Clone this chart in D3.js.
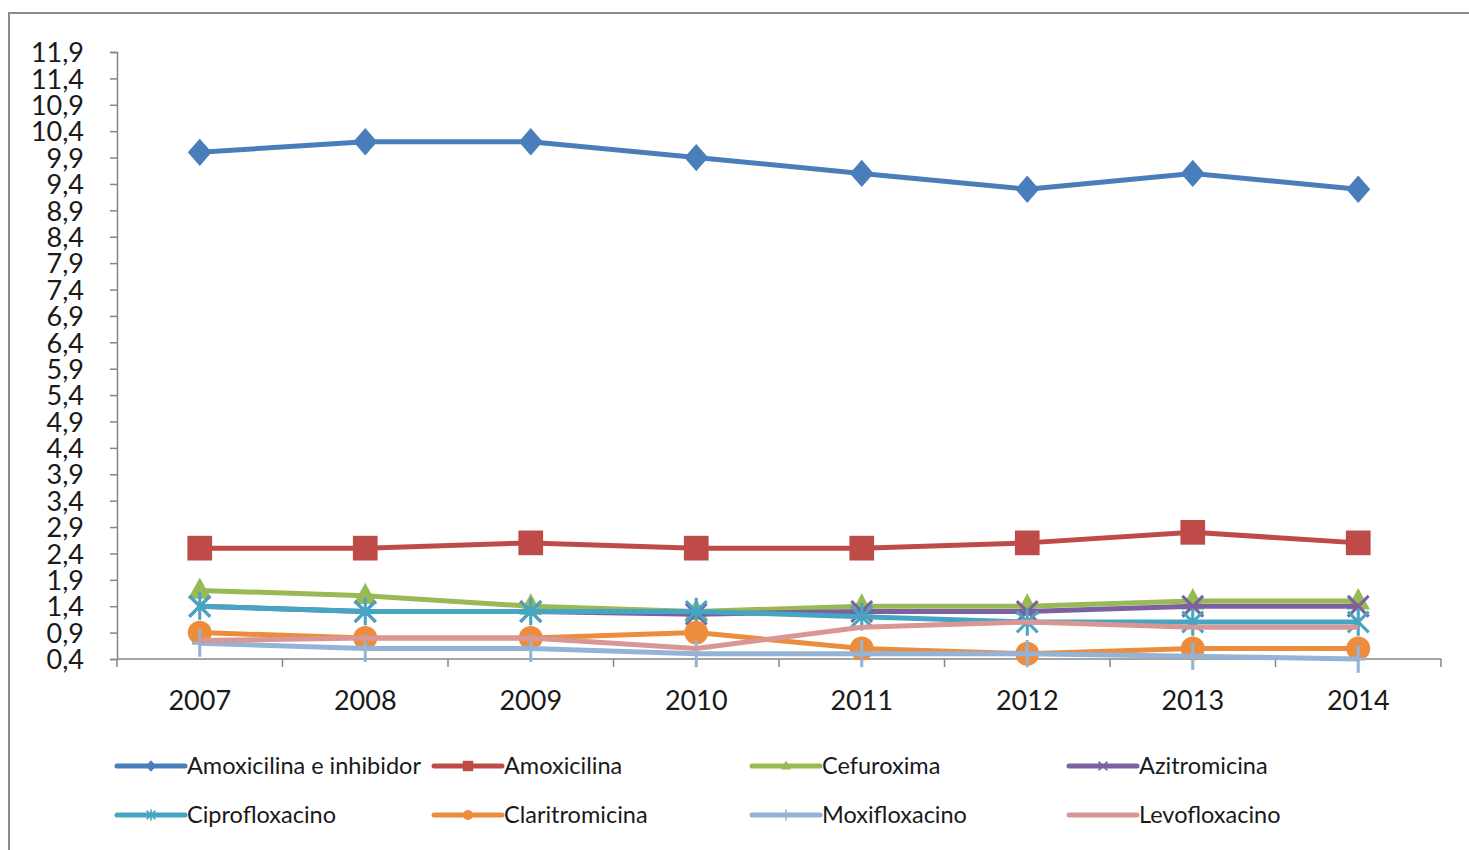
<!DOCTYPE html>
<html>
<head>
<meta charset="utf-8">
<script src="https://cdn.jsdelivr.net/npm/d3@7"></script>
<style>
  body { margin: 0; background: #fff; }
  svg text { font-family: Lato, "Liberation Sans", sans-serif; fill: #1a1a1a; }
</style>
</head>
<body>
<script>
'use strict';
(function () {
  // data
  const years = ["2007", "2008", "2009", "2010", "2011", "2012", "2013", "2014"];
  const yTicks = [0.4, 0.9, 1.4, 1.9, 2.4, 2.9, 3.4, 3.9, 4.4, 4.9, 5.4, 5.9,
    6.4, 6.9, 7.4, 7.9, 8.4, 8.9, 9.4, 9.9, 10.4, 10.9, 11.4, 11.9];

  const amoxInhib = [10.0, 10.2, 10.2, 9.9, 9.6, 9.3, 9.6, 9.3];
  const amoxicilina = [2.5, 2.5, 2.6, 2.5, 2.5, 2.6, 2.8, 2.6];
  const cefuroxima = [1.7, 1.6, 1.4, 1.3, 1.4, 1.4, 1.5, 1.5];
  const azitromicina = [1.4, 1.3, 1.3, 1.25, 1.3, 1.3, 1.4, 1.4];
  const ciprofloxacino = [1.4, 1.3, 1.3, 1.3, 1.2, 1.1, 1.1, 1.1];
  const claritromicina = [0.9, 0.8, 0.8, 0.9, 0.6, 0.5, 0.6, 0.6];
  const moxifloxacino = [0.7, 0.6, 0.6, 0.5, 0.5, 0.5, 0.45, 0.4];
  const levofloxacino = [0.75, 0.8, 0.8, 0.6, 1.0, 1.1, 1.0, 1.0];

  const series = [
    { name: "Amoxicilina e inhibidor", values: amoxInhib, color: "#4A7EBB", marker: "diamond" },
    { name: "Amoxicilina", values: amoxicilina, color: "#BE4B48", marker: "square" },
    { name: "Cefuroxima", values: cefuroxima, color: "#98B954", marker: "triangle" },
    { name: "Azitromicina", values: azitromicina, color: "#7D60A0", marker: "x" },
    { name: "Ciprofloxacino", values: ciprofloxacino, color: "#46A5C2", marker: "star" },
    { name: "Claritromicina", values: claritromicina, color: "#EC8D3E", marker: "circle" },
    { name: "Moxifloxacino", values: moxifloxacino, color: "#94B3D6", marker: "plus" },
    { name: "Levofloxacino", values: levofloxacino, color: "#D99694", marker: "none" }
  ];

  const W = 1469, H = 850;
  const plot = { left: 117, right: 1441, top: 52, bottom: 659 };

  const svg = d3.select('body').append('svg')
    .attr('width', W)
    .attr('height', H);

  // chart area frame
  svg.append('path')
    .attr('d', 'M9,850 V13 H1469')
    .attr('fill', 'none')
    .attr('stroke', '#8c8c8c')
    .attr('stroke-width', 2);

  const xBand = d3.scaleBand().domain(years).range([plot.left, plot.right]);
  const x = d => xBand(d) + xBand.bandwidth() / 2;
  const y = d3.scaleLinear().domain([0.4, 11.9]).range([plot.bottom, plot.top]);

  // y axis
  const yAxis = d3.axisLeft(y)
    .tickValues(yTicks)
    .tickSize(7)
    .tickPadding(26)
    .tickFormat(d => d.toFixed(1).replace('.', ','));
  const gy = svg.append('g')
    .attr('transform', 'translate(' + plot.left + ',0)')
    .call(yAxis);
  gy.select('.domain').attr('stroke', '#868686').attr('stroke-width', 1.5);
  gy.selectAll('.tick line').attr('stroke', '#868686').attr('stroke-width', 1.5);
  gy.selectAll('.tick text')
    .style('font-size', '27px')
    .attr('dy', '0.36em')
    .attr('fill', '#1a1a1a');

  // x axis: tick marks at category boundaries
  const gx = svg.append('g')
    .attr('transform', 'translate(0,' + plot.bottom + ')');
  gx.append('line')
    .attr('x1', plot.left).attr('x2', plot.right)
    .attr('stroke', '#868686').attr('stroke-width', 1.5);
  const edges = years.map(d => xBand(d)).concat([plot.right]);
  gx.selectAll('.edge')
    .data(edges)
    .enter().append('line')
    .attr('x1', d => d).attr('x2', d => d)
    .attr('y1', 0).attr('y2', 8)
    .attr('stroke', '#868686').attr('stroke-width', 1.5);
  gx.selectAll('text')
    .data(years)
    .enter().append('text')
    .attr('x', d => x(d))
    .attr('y', 51)
    .attr('text-anchor', 'middle')
    .style('font-size', '27px')
    .text(d => d);

  function drawMarker(g, type, cx, cy, s, color) {
    const h = s / 2;
    if (type === 'diamond') {
      const hw = h * 0.92, hh = h * 1.05;
      g.append('path')
        .attr('d', 'M' + cx + ',' + (cy - hh) + 'L' + (cx + hw) + ',' + cy + 'L' + cx + ',' + (cy + hh) + 'L' + (cx - hw) + ',' + cy + 'Z')
        .attr('fill', color);
    } else if (type === 'square') {
      g.append('rect')
        .attr('x', cx - h * 0.95).attr('y', cy - h * 0.95)
        .attr('width', s * 0.95).attr('height', s * 0.95)
        .attr('fill', color);
    } else if (type === 'triangle') {
      g.append('path')
        .attr('d', 'M' + cx + ',' + (cy - h) + 'L' + (cx + h * 0.9) + ',' + (cy + h * 0.65) + 'L' + (cx - h * 0.9) + ',' + (cy + h * 0.65) + 'Z')
        .attr('fill', color);
    } else if (type === 'circle') {
      g.append('circle')
        .attr('cx', cx).attr('cy', cy).attr('r', h * 0.92)
        .attr('fill', color);
    } else if (type === 'x' || type === 'star' || type === 'plus') {
      const a = h * 0.8;
      let d = '';
      if (type !== 'plus') {
        d += 'M' + (cx - a) + ',' + (cy - a) + 'L' + (cx + a) + ',' + (cy + a);
        d += 'M' + (cx - a) + ',' + (cy + a) + 'L' + (cx + a) + ',' + (cy - a);
      }
      if (type !== 'x') {
        d += 'M' + cx + ',' + (cy - h * 1.05) + 'L' + cx + ',' + (cy + h * 1.05);
      }
      if (type === 'plus') {
        d += 'M' + (cx - h * 0.6) + ',' + cy + 'L' + (cx + h * 0.6) + ',' + cy;
      }
      g.append('path')
        .attr('d', d)
        .attr('fill', 'none')
        .attr('stroke', color)
        .attr('stroke-width', Math.max(1.5, s / 8.5));
    }
  }

  const line = d3.line()
    .x((d, i) => x(years[i]))
    .y(d => y(d));

  series.forEach(s => {
    const g = svg.append('g');
    g.append('path')
      .datum(s.values)
      .attr('fill', 'none')
      .attr('stroke', s.color)
      .attr('stroke-width', 5)
      .attr('stroke-linejoin', 'round')
      .attr('d', line);
    s.values.forEach((v, i) => {
      drawMarker(g, s.marker, x(years[i]), y(v), 26, s.color);
    });
  });

  // legend
  const legCols = [117, 434, 752, 1069];
  const legRows = [766, 815];
  series.forEach((s, i) => {
    const lx = legCols[i % 4];
    const ly = legRows[Math.floor(i / 4)];
    const g = svg.append('g');
    g.append('line')
      .attr('x1', lx).attr('x2', lx + 68)
      .attr('y1', ly).attr('y2', ly)
      .attr('stroke', s.color)
      .attr('stroke-width', 5)
      .attr('stroke-linecap', 'round');
    drawMarker(g, s.marker, lx + 34, ly, 11, s.color);
    g.append('text')
      .attr('x', lx + 70)
      .attr('y', ly + 8)
      .style('font-size', '23.5px')
      .text(s.name);
  });
})();
</script>
</body>
</html>
